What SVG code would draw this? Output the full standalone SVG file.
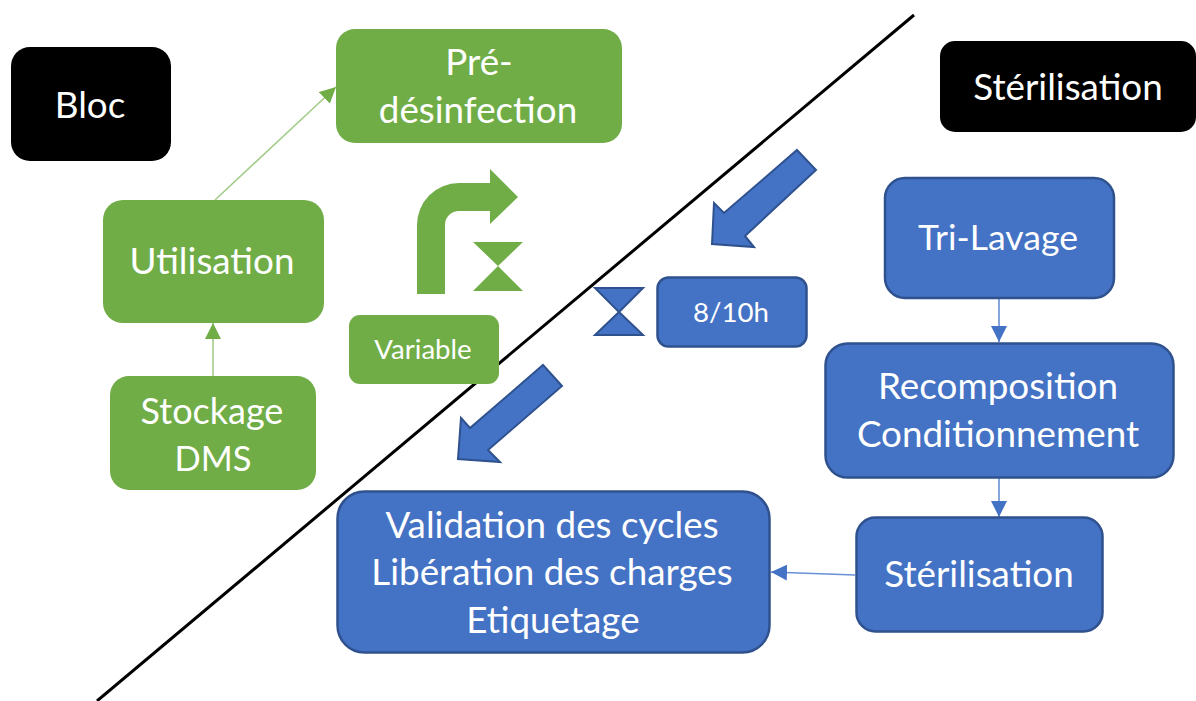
<svg xmlns="http://www.w3.org/2000/svg" width="1196" height="701" viewBox="0 0 1196 701">
<defs>
<marker id="ag" markerUnits="userSpaceOnUse" markerWidth="18" markerHeight="18" refX="16" refY="8" orient="auto"><path d="M0 0L16 8L0 16Z" fill="#70ad47"/></marker>
<marker id="ab" markerUnits="userSpaceOnUse" markerWidth="18" markerHeight="18" refX="16" refY="8" orient="auto"><path d="M0 0L16 8L0 16Z" fill="#4472c4"/></marker>
</defs>
<style>
text{font-family:"Lato","Carlito","Open Sans",sans-serif;fill:#fff;text-anchor:middle;font-size:36.8px}
.s{font-size:27.6px}
.g{fill:#70ad47}
.b{fill:#4472c4;stroke:#2f528f;stroke-width:2.5}
.k{fill:#000}
.cg{stroke:#a3cc8a;stroke-width:1.6;fill:none}
.cb{stroke:#6a90d4;stroke-width:1.6;fill:none}
</style>
<rect width="1196" height="701" fill="#fff"/>
<line id="divider" x1="97" y1="701" x2="914" y2="15" stroke="#000" stroke-width="3"/>
<g id="connectors">
<path class="cg" d="M213 376V323" marker-end="url(#ag)"/>
<path class="cg" d="M215 200L336 87" marker-end="url(#ag)"/>
<path class="cb" d="M999 298V342" marker-end="url(#ab)"/>
<path class="cb" d="M999 478V517" marker-end="url(#ab)"/>
<path class="cb" d="M855 575L771 572" marker-end="url(#ab)"/>
</g>
<g id="bloc"><rect class="k" x="11" y="47" width="160" height="114" rx="19"/><text x="90" y="118">Bloc</text></g>
<g id="sterilisation-title"><rect class="k" x="940" y="41" width="256" height="91" rx="15"/><text x="1068" y="100">Stérilisation</text></g>
<g id="pre-desinfection"><rect class="g" x="336" y="29" width="286" height="114" rx="19"/><text x="479" y="75">Pré-</text><text x="478" y="123">désinfection</text></g>
<g id="utilisation"><rect class="g" x="103" y="200" width="221" height="123" rx="20"/><text x="212" y="274">Utilisation</text></g>
<g id="stockage"><rect class="g" x="110" y="376" width="206" height="114" rx="19"/><text x="212" y="424" style="font-size:36px">Stockage</text><text x="213" y="471" style="font-size:34.500px">DMS</text></g>
<g id="variable"><rect class="g" x="349" y="315" width="150" height="69" rx="11"/><text class="s" x="423" y="359">Variable</text></g>
<g id="bent-arrow"><path class="g" d="M417 294V225A42 42 0 0 1 459 183H490V169L518 197L490 224V211H459A14 14 0 0 0 445 225V294Z"/></g>
<g id="hourglass-green"><path class="g" d="M473 242H523L498 266L523 291H473L498 266Z"/></g>
<g id="hourglass-blue"><path class="b" style="stroke-width:2" d="M595 288H643L619 312L643 335H595L619 312Z"/></g>
<g id="duration"><rect class="b" x="657.500" y="277.500" width="149" height="69" rx="11"/><text class="s" x="731" y="322">8/10h</text></g>
<g id="arrow-top"><path class="b" style="stroke-width:2" d="M797 150L816 170L745 236L754 247L712 244L714 203L724 213Z"/></g>
<g id="arrow-bottom"><path class="b" style="stroke-width:2" d="M543 365L562 386L488 450L500 462L458 459L461 418L470 428Z"/></g>
<g id="tri-lavage"><rect class="b" x="885" y="178" width="229" height="120" rx="20"/><text x="998" y="250" style="font-size:35.600px">Tri-Lavage</text></g>
<g id="recomposition"><rect class="b" x="825.500" y="343.500" width="348" height="134" rx="22"/><text x="998" y="399">Recomposition</text><text x="998" y="447">Conditionnement</text></g>
<g id="sterilisation"><rect class="b" x="856.500" y="517.500" width="246" height="114" rx="19"/><text x="979" y="587">Stérilisation</text></g>
<g id="validation"><rect class="b" x="337.500" y="491.500" width="432" height="161" rx="27"/><text x="552" y="538">Validation des cycles</text><text x="552" y="585">Libération des charges</text><text x="553" y="633">Etiquetage</text></g>
</svg>
